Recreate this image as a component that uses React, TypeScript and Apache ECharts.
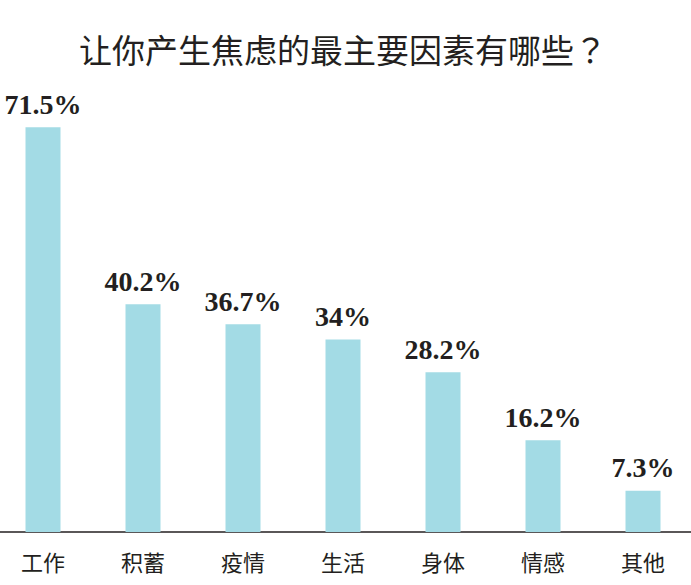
import React, { useEffect, useRef } from "react";
import * as echarts from "echarts";

const categories = ["工作", "积蓄", "疫情", "生活", "身体", "情感", "其他"];
const values = [71.5, 40.2, 36.7, 34, 28.2, 16.2, 7.3];
const titleText = "让你产生焦虑的最主要因素有哪些？";

export default function App() {
  const ref = useRef<HTMLDivElement>(null);
  useEffect(() => {
    const chart = echarts.init(ref.current!, null, { renderer: "svg" });
    chart.setOption({
      animation: false,
      title: {
        text: titleText,
        left: "center",
        top: 27,
        textStyle: {
          fontFamily: "Noto Sans CJK TC",
          fontSize: 33,
          fontWeight: "normal",
          color: "#231f20",
        },
      },
      grid: { left: 0, right: 0, top: 79, bottom: 53 },
      xAxis: {
        type: "category",
        data: categories,
        axisLine: { lineStyle: { color: "#231f20", width: 1.5 } },
        axisTick: { show: false },
        axisLabel: {
          fontFamily: "Noto Sans CJK SC",
          fontSize: 22,
          color: "#231f20",
          margin: 18,
        },
      },
      yAxis: {
        type: "value",
        min: 0,
        max: 80,
        show: false,
        splitLine: { show: false },
      },
      series: [
        {
          type: "bar",
          data: values,
          barWidth: 35,
          itemStyle: { color: "#a3dbe5" },
          label: {
            show: true,
            position: "top",
            distance: 9,
            formatter: "{c}%",
            fontFamily: "Liberation Serif",
            fontWeight: "bold",
            fontSize: 28,
            color: "#231f20",
          },
        },
      ],
    });
    return () => chart.dispose();
  }, []);
  return (
    <div style={{ position: "absolute", left: 0, top: 0, width: 691, height: 585, overflow: "hidden" }}>
      <div
        ref={ref}
        style={{ position: "absolute", left: -7.5, top: 0, width: 700, height: 585 }}
      />
    </div>
  );
}
